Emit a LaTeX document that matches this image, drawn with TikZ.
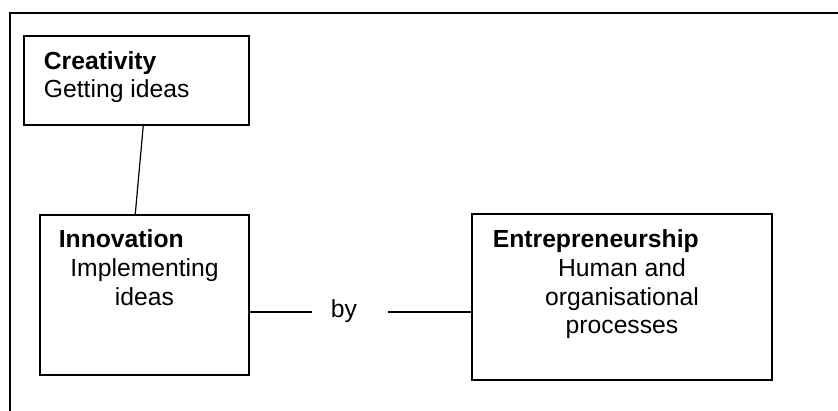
\documentclass[tikz,border=0pt]{standalone}
\usepackage{fontspec}
\setmainfont{Liberation Sans}
\usetikzlibrary{calc}

\begin{document}
\begin{tikzpicture}[x=1pt,y=-1pt,-,line width=1.2pt]
	\tikzstyle{box}=[draw, rectangle, line width=1.5pt, inner sep=0pt]
	\tikzstyle{txt}=[inner sep=0pt, font=\fontsize{24.7}{28.5}\selectfont]
	\tikzstyle{head}=[inner sep=0pt, font=\fontsize{24.7}{28.5}\selectfont\bfseries, anchor=base west]
	\useasboundingbox (0,0) rectangle (838,411);
	\draw (838,13) -- (10,13) -- (10,411);
	\node[box, minimum width=225pt, minimum height=89pt]  (crea) at (136.5,80.5) {};
	\node[box, minimum width=209pt, minimum height=160pt] (inno) at (144.5,295)  {};
	\node[box, minimum width=300pt, minimum height=166pt] (entr) at (622,297)    {};
	\node[head] (creahead) at ($(crea.north west)+(20,34)$) {Creativity};
	\node[txt, anchor=base west] (creabody) at ($(crea.north west)+(20,62)$) {Getting ideas};
	\node[head] (innohead) at ($(inno.north west)+(19,33)$) {Innovation};
	\node[txt, align=center, anchor=north] (innobody) at ($(inno.north)+(0,44)$) {Implementing\\ideas};
	\node[head] (entrhead) at ($(entr.north west)+(21,34)$) {Entrepreneurship};
	\node[txt, align=center, anchor=north] (entrbody) at ($(entr.north)+(0,45)$) {Human and\\organisational\\processes};
	\node[txt, anchor=base] (by) at (344,318) {by};
	\coordinate (byl) at (312,312);
	\coordinate (byr) at (388,312);
	\path
		($(crea.south west)+(120,0)$) edge ($(inno.north west)+(96,0)$)
		(inno.east |- byl) edge (byl)
		(byr) edge (entr.west |- byr);
\end{tikzpicture}
\end{document}
